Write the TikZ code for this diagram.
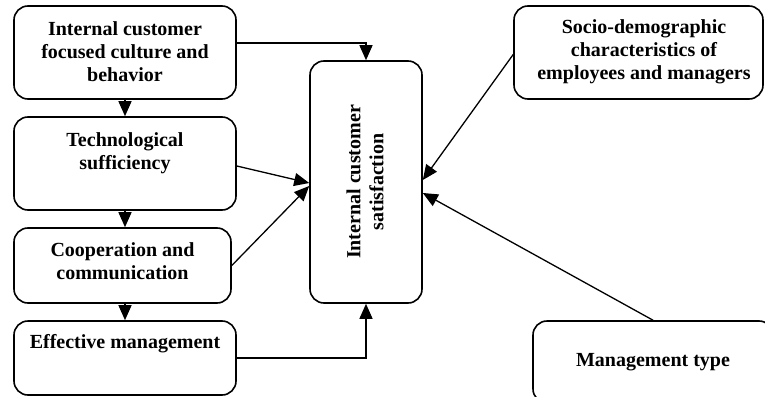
\documentclass[tikz,border=0pt]{standalone}
\usepackage{fontspec}
\setmainfont{Liberation Serif}
\usetikzlibrary{arrows.meta}
\begin{document}
\begin{tikzpicture}[x=1pt,y=-1pt,
  box/.style={draw,line width=1.6pt,rounded corners=14pt,inner sep=0pt},
  txt/.style={align=center,font=\fontsize{20}{23}\selectfont\bfseries,inner sep=0pt},
  arr/.style={line width=1.3pt,-{Triangle[length=15pt,width=13pt]}}]
\useasboundingbox (0,0) rectangle (765,396);
\clip (0,0) rectangle (765,396);
% boxes
\node[box,minimum width=222pt,minimum height=93pt] (A) at (125,52.5) {};
\node[box,minimum width=222pt,minimum height=93pt] (B) at (125,163.5) {};
\node[box,minimum width=217pt,minimum height=75pt] (C) at (122.5,265.5) {};
\node[box,minimum width=222pt,minimum height=74pt] (D) at (125,358) {};
\node[box,minimum width=112pt,minimum height=242pt] (ctr) at (366,182) {};
\node[box,minimum width=249pt,minimum height=93pt] (S) at (638.5,52.5) {};
\node[box,minimum width=240pt,minimum height=82pt] (M) at (653,362) {};
% texts
\node[txt] (tA) at (125,51.5) {Internal customer\\focused culture and\\behavior};
\node[txt] (tB) at (125,153.5) {Technological\\sufficiency};
\node[txt] (tC) at (122.5,261) {Cooperation and\\communication};
\node[txt] (tD) at (125,344) {Effective management};
\node[txt,rotate=90] (tctr) at (365,182) {Internal customer\\satisfaction};
\node[txt] (tS) at (644,52) {Socio-demographic\\characteristics of\\employees and managers};
\node[txt] (tM) at (653,362) {Management type};
% connectors
\draw[arr] ([yshift=9.5pt]A.east) -| (ctr.north);
\draw[arr] (A.south) -- (B.north);
\draw[arr] (B.south) -- (B.south |- C.north);
\draw[arr] (D.north |- C.south) -- (D.north);
\draw[arr] ([yshift=-2.5pt]B.east) -- ([yshift=-1pt]ctr.west);
\draw[arr] (C.east) -- ([yshift=-4pt]ctr.west);
\draw[arr] (D.east) -| (ctr.south);
\draw[arr] ([yshift=-2pt]S.west) -- ([yshift=2pt]ctr.east);
\draw[arr] (M.north) -- ([yshift=-11pt]ctr.east);
\end{tikzpicture}
\end{document}
